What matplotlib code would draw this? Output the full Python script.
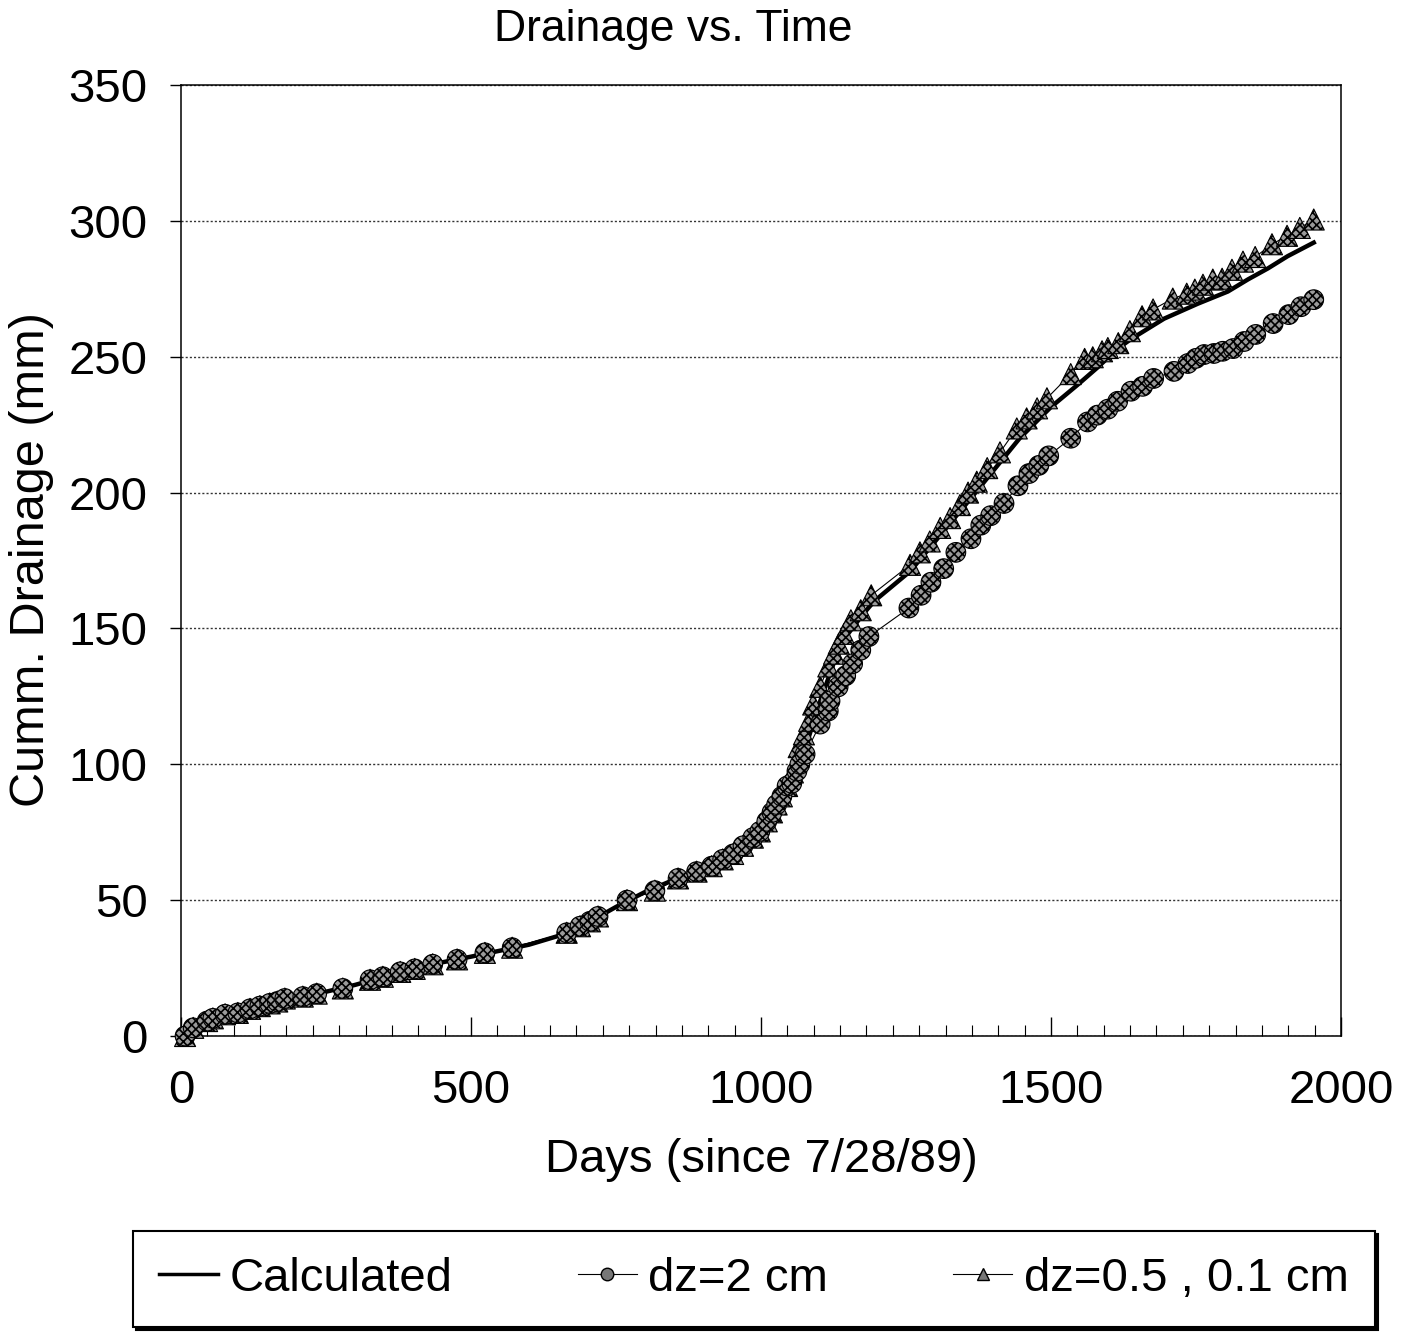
import matplotlib
matplotlib.use("Agg")
import matplotlib.pyplot as plt
from matplotlib.lines import Line2D
from matplotlib.ticker import MultipleLocator

plt.rcParams['font.family'] = ['Liberation Sans', 'DejaVu Sans']
plt.rcParams['hatch.linewidth'] = 1.2

# calculated curve
calc_days = [0, 10, 25, 50, 100, 150, 200, 250, 300, 350, 400, 450, 500, 550, 600, 650,
             700, 750, 800, 850, 900, 950, 1000, 1025, 1050, 1075, 1100, 1125, 1150, 1175,
             1195, 1257, 1300, 1366, 1446, 1500, 1545, 1580, 1615, 1638, 1695, 1753, 1805,
             1840, 1874, 1908, 1953]
calc_vals = [0, 2, 4, 6.3, 9, 11.8, 14.3, 16.3, 18.8, 21.8, 24.6, 27.1, 29.2, 31.4, 33.6, 36.8,
             41.5, 47.5, 53, 57.5, 61.5, 66.5, 74, 80.5, 91, 105, 122, 137, 148, 155,
             160, 171, 182, 199, 220, 231.5, 239.5, 246, 253, 256.5, 264, 269.5, 274,
             278.5, 282.5, 287, 292]

# measured points shared by both grids early on
early_days = [7, 21, 45, 55, 76, 98, 119, 136, 153, 166, 179, 210, 234, 279, 326, 348, 378,
              403, 434, 476, 524, 571, 665, 688, 705, 719, 769, 817, 857, 889, 915, 934, 952,
              969, 986, 998, 1010, 1019, 1027, 1036, 1045]
early_vals = [0, 3, 5.5, 6.5, 8, 8.5, 10, 11, 12, 12.7, 13.8, 14.5, 15.6, 17.5, 20.7, 21.8, 23.6,
              24.7, 26.4, 28.2, 30.6, 32.5, 38, 40.4, 42.2, 44, 50, 53.5, 58, 60.5, 62.5, 65, 67,
              70, 73, 75.3, 79, 82.3, 85.2, 88.2, 92]

# dz = 2 cm
dz2_days = early_days + [1053, 1062, 1067, 1076, 1102, 1116, 1119, 1133, 1146, 1158, 1172, 1186,
                         1255, 1276, 1293, 1315, 1336, 1362, 1379, 1396, 1419, 1443, 1462, 1479,
                         1496, 1534, 1563, 1580, 1598, 1615, 1638, 1658, 1677, 1712, 1736, 1750,
                         1764, 1781, 1796, 1814, 1833, 1853, 1883, 1910, 1931, 1953]
dz2_vals = early_vals + [93, 97.5, 100, 103.7, 114.8, 119.6, 123.3, 128.5, 132.6, 137, 142, 147,
                         157.5, 162.2, 167, 172, 178, 183, 188, 191.5, 196, 202.5, 207, 210,
                         213.5, 220, 226, 228.5, 230.7, 233.6, 237.3, 239.1, 242, 244.6, 247.5, 249.4,
                         250.8, 251.2, 252, 253, 255.6, 258.2, 262.2, 265.5, 268.4, 271]

# dz = 0.5, 0.1 cm
dzf_days = early_days + [1055, 1065, 1074, 1083, 1090, 1102, 1116, 1126, 1134, 1143, 1155, 1172,
                         1190, 1257, 1274, 1291, 1309, 1326, 1343, 1357, 1372, 1390, 1412, 1441,
                         1458, 1476, 1493, 1534, 1558, 1572, 1588, 1598, 1616, 1636, 1657, 1676,
                         1710, 1734, 1748, 1762, 1779, 1795, 1812, 1831, 1852, 1881, 1907, 1929, 1953]
dzf_vals = early_vals + [97, 106.3, 111, 116, 122, 128.5, 136, 140.7, 144.4, 148, 153, 156.7,
                         162.2, 173.4, 178, 182, 187, 190.6, 195.4, 200, 204, 209, 214.8, 223.6,
                         227.3, 231, 234.7, 243.6, 249.2, 249.8, 252, 253.2, 255, 259.4, 264.9, 267.4,
                         271.4, 273.2, 274.7, 276.5, 278.4, 278.7, 282, 285, 286.7, 291.4, 294.5, 297.4, 300.5]

fig = plt.figure(figsize=(14.08, 13.33), dpi=100)
ax = fig.add_axes([181/1408, 1 - 1036/1333, 1160/1408, 951/1333])

ax.plot(calc_days, calc_vals, color='black', lw=3.2, zorder=3)

ax.plot(dzf_days, dzf_vals, color='black', lw=0.8, zorder=2)
ax.scatter(dzf_days, dzf_vals, marker='^', s=230, facecolors='#9a9a9a', edgecolors='black',
           hatch='xxxx', linewidths=0.8, zorder=4, clip_on=False)

ax.plot(dz2_days, dz2_vals, color='black', lw=0.8, zorder=2)
ax.scatter(dz2_days, dz2_vals, marker='o', s=200, facecolors='#9a9a9a', edgecolors='black',
           hatch='xxxx', linewidths=0.8, zorder=5, clip_on=False)

ax.set_xlim(0, 2000)
ax.set_ylim(0, 350)
ax.xaxis.set_major_locator(MultipleLocator(500))
ax.xaxis.set_minor_locator(MultipleLocator(500 / 11))
ax.yaxis.set_major_locator(MultipleLocator(50))
ax.tick_params(axis='x', which='major', direction='in', length=14, width=1, labelsize=34, pad=24)
ax.tick_params(axis='x', which='minor', direction='in', length=8, width=0.8)
ax.tick_params(axis='y', which='major', direction='out', length=8, width=1, labelsize=34, pad=16)
ax.yaxis.grid(True, linestyle=(0, (1.5, 1.5)), color='#333333', lw=1)
for s in ax.spines.values():
    s.set_linewidth(1.1)
    s.set_color('black')

fig.text(673/1408, 1 - 29/1333, 'Drainage vs. Time', fontsize=32, ha='center', va='center')
fig.text(761/1408, 1 - 1160/1333, 'Days (since 7/28/89)', fontsize=34, ha='center', va='center')
fig.text(32/1408, 1 - 560/1333, 'Cumm. Drainage (mm)', fontsize=35, ha='center', va='center',
         rotation=90)

handles = [
    Line2D([], [], color='black', lw=2.5),
    Line2D([], [], color='black', lw=0.8, marker='o', markersize=9,
           markerfacecolor='#777777', markeredgecolor='black'),
    Line2D([], [], color='black', lw=0.8, marker='^', markersize=9,
           markerfacecolor='#777777', markeredgecolor='black'),
]
leg = fig.legend(handles, ['Calculated', 'dz=2 cm', 'dz=0.5 , 0.1 cm'], ncol=3,
                 loc='center', mode='expand', borderaxespad=0,
                 bbox_to_anchor=(133/1408, 1 - 1330/1333, 1242/1408, 102/1333),
                 fontsize=34, handlelength=1.25, handletextpad=0.25, borderpad=0.55,
                 fancybox=False, shadow={'color': 'black', 'alpha': 1.0}, framealpha=1)
leg.get_frame().set_edgecolor('black')
leg.get_frame().set_linewidth(1.5)

fig.savefig('out.png', dpi=100)
